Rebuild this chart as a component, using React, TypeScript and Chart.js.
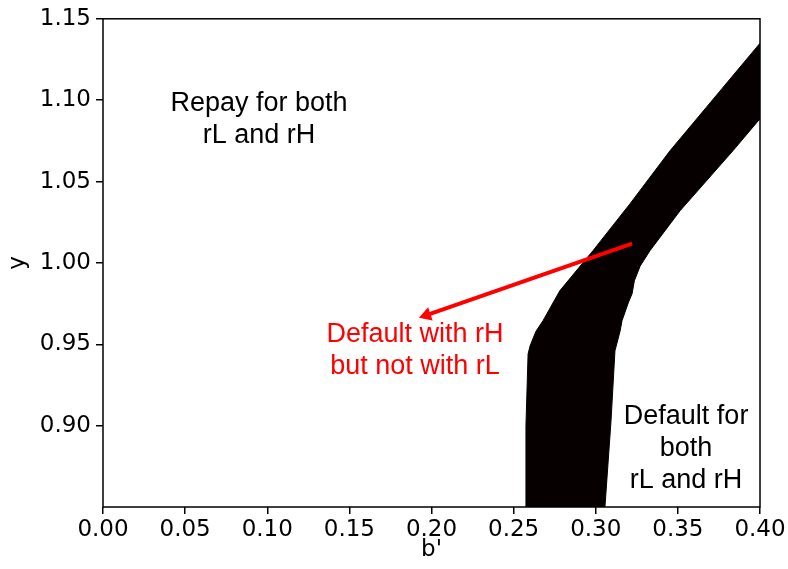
import React, { useEffect, useRef } from "react";
import { Chart, registerables } from "chart.js";

Chart.register(...registerables);

// Region boundaries (b', y)
const bandUpperX = [0.257, 0.2575, 0.2588, 0.2600, 0.2612, 0.2636, 0.2679, 0.2782, 0.2983, 0.3209, 0.3452, 0.40];
const bandUpperY = [0.85, 0.90, 0.944, 0.949, 0.952, 0.958, 0.9645, 0.983, 1.0075, 1.0364, 1.0689, 1.135];
const bandLowerX = [0.257, 0.3056, 0.3093, 0.3117, 0.3148, 0.3160, 0.3200, 0.3221, 0.3235, 0.3270, 0.3330, 0.3513, 0.3836, 0.40];
const bandLowerY = [0.85, 0.85, 0.903, 0.946, 0.958, 0.9645, 0.976, 0.981, 0.989, 0.998, 1.0075, 1.032, 1.069, 1.0886];

// Arrow (tail -> head)
const arrowX = [0.3221, 0.197];
const arrowY = [1.0118, 0.9679];

// Ticks
const xTicks = [0, 0.05, 0.1, 0.15, 0.2, 0.25, 0.3, 0.35, 0.4];
const yTicks = [0.9, 0.95, 1.0, 1.05, 1.1, 1.15];

// Annotations
const noteLines = [
  ["Repay for both", "rL and rH"],
  ["Default with rH", "but not with rL"],
  ["Default for", "both", "rL and rH"],
];
const noteX = [0.095, 0.19, 0.355];
const noteY = [1.088, 0.946, 0.886];
const noteColors = ["#000000", "#ff0000", "#000000"];

const toPts = (xs: number[], ys: number[]) => xs.map((x, i) => ({ x, y: ys[i] }));

const framePlugin = {
  id: "frameAndNotes",
  afterDraw(chart: any) {
    const { ctx, chartArea, scales } = chart;
    ctx.save();
    ctx.strokeStyle = "#000";
    ctx.lineWidth = 1.5;
    ctx.strokeRect(chartArea.left, chartArea.top, chartArea.right - chartArea.left, chartArea.bottom - chartArea.top);
    ctx.font = "27px 'Liberation Sans', Arial, sans-serif";
    ctx.textAlign = "center";
    ctx.textBaseline = "middle";
    const lh = 32;
    noteLines.forEach((lines, i) => {
      const cx = scales.x.getPixelForValue(noteX[i]);
      const cy = scales.y.getPixelForValue(noteY[i]);
      ctx.fillStyle = noteColors[i];
      const start = cy - ((lines.length - 1) * lh) / 2;
      lines.forEach((t, j) => ctx.fillText(t, cx, start + j * lh));
    });
    ctx.restore();
  },
};

export default function App() {
  const ref = useRef<HTMLCanvasElement | null>(null);
  useEffect(() => {
    document.body.style.margin = "0";
    const tickFont = { family: "'DejaVu Sans', sans-serif", size: 23 };
    const chart = new Chart(ref.current as HTMLCanvasElement, {
      type: "line",
      data: {
        datasets: [
          {
            data: toPts(bandUpperX, bandUpperY),
            borderColor: "#060000",
            backgroundColor: "#060000",
            borderWidth: 1,
            pointRadius: 0,
            fill: "+1",
            tension: 0,
            order: 2,
          },
          {
            data: toPts(bandLowerX, bandLowerY),
            borderColor: "#060000",
            backgroundColor: "#060000",
            borderWidth: 1,
            pointRadius: 0,
            fill: false,
            tension: 0,
            order: 3,
          },
          {
            data: toPts(arrowX, arrowY),
            borderColor: "#ff0000",
            backgroundColor: "#ff0000",
            borderWidth: 4,
            pointRadius: [0, 8],
            pointStyle: "triangle",
            pointRotation: 251,
            pointBorderWidth: 0,
            pointBackgroundColor: "#ff0000",
            fill: false,
            order: 0,
          },
        ],
      },
      options: {
        responsive: false,
        animation: false,
        events: [],
        layout: { padding: { top: 18, right: 28, left: 0, bottom: 0 } },
        plugins: { legend: { display: false }, tooltip: { enabled: false } },
        scales: {
          x: {
            type: "linear",
            min: 0,
            max: 0.4,
            afterBuildTicks: (s: any) => {
              s.ticks = xTicks.map((v) => ({ value: v }));
            },
            afterFit: (s: any) => {
              s.height = 62;
            },
            ticks: {
              font: tickFont,
              color: "#000",
              padding: 2,
              maxRotation: 0,
              autoSkip: false,
              callback: (v: any) => Number(v).toFixed(2),
            },
            grid: { drawOnChartArea: false, drawTicks: true, tickLength: 7, color: "#000", lineWidth: 1.5 },
            border: { display: false },
            title: { display: true, text: "b'", font: tickFont, color: "#000", padding: { top: 2, bottom: 5 } },
          },
          y: {
            type: "linear",
            min: 0.85,
            max: 1.15,
            afterBuildTicks: (s: any) => {
              s.ticks = yTicks.map((v) => ({ value: v }));
            },
            afterFit: (s: any) => {
              s.width = 103;
            },
            ticks: {
              font: tickFont,
              color: "#000",
              padding: 5,
              autoSkip: false,
              callback: (v: any) => Number(v).toFixed(2),
            },
            grid: { drawOnChartArea: false, drawTicks: true, tickLength: 7, color: "#000", lineWidth: 1.5 },
            border: { display: false },
            title: { display: true, text: "y", font: tickFont, color: "#000", padding: { top: 4, bottom: 4 } },
          },
        },
      } as any,
      plugins: [framePlugin],
    });
    return () => chart.destroy();
  }, []);
  return (
    <div style={{ width: 788, height: 569 }}>
      <canvas ref={ref} width={788} height={569} style={{ display: "block" }} />
    </div>
  );
}
